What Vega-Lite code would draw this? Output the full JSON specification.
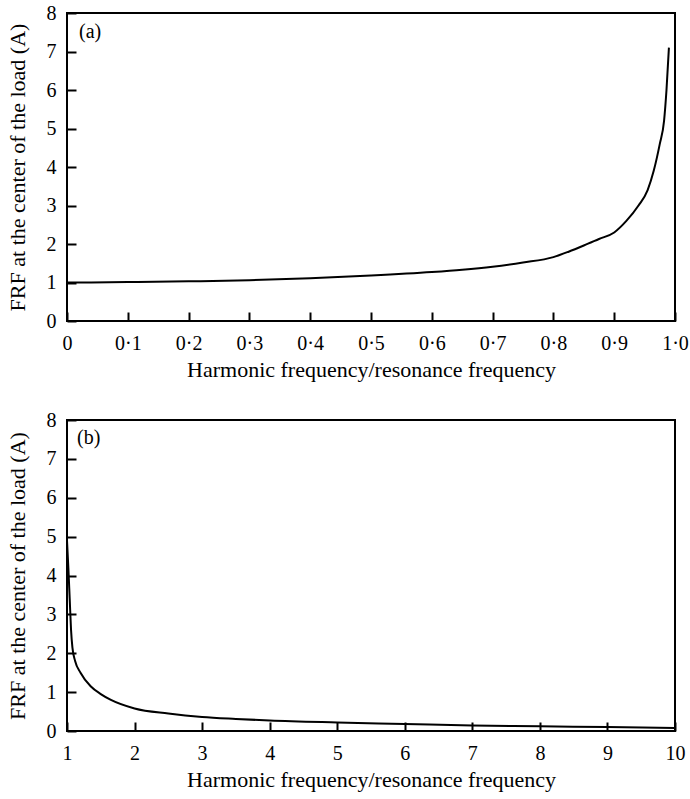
{
  "$schema": "https://vega.github.io/schema/vega-lite/v6.json",
  "background": "white",
  "padding": {"left": 5, "top": 2, "right": 12, "bottom": 4},
  "config": {
    "font": "Liberation Serif",
    "view": {"stroke": "black", "strokeWidth": 2},
    "axis": {
      "grid": false,
      "domain": false,
      "ticks": true,
      "tickColor": "#000000",
      "tickOpacity": 1,
      "tickWidth": 2,
      "tickSize": 9,
      "offset": -9,
      "labelOverlap": false,
      "labelFlush": false,
      "labelFont": "Liberation Serif",
      "labelFontSize": 20,
      "labelColor": "black",
      "titleFont": "Liberation Serif",
      "titleFontSize": 22,
      "titleFontWeight": "normal",
      "titleColor": "black"
    }
  },
  "datasets": {
    "a": [
      {"r": 0, "frf": 1.0},
      {"r": 0.1, "frf": 1.01},
      {"r": 0.2, "frf": 1.03},
      {"r": 0.3, "frf": 1.06},
      {"r": 0.4, "frf": 1.11},
      {"r": 0.5, "frf": 1.18},
      {"r": 0.6, "frf": 1.27},
      {"r": 0.65, "frf": 1.33},
      {"r": 0.7, "frf": 1.41},
      {"r": 0.75, "frf": 1.52},
      {"r": 0.8, "frf": 1.66},
      {"r": 0.825, "frf": 1.8},
      {"r": 0.85, "frf": 1.96},
      {"r": 0.875, "frf": 2.13},
      {"r": 0.9, "frf": 2.3},
      {"r": 0.92, "frf": 2.6},
      {"r": 0.94, "frf": 3.0},
      {"r": 0.955, "frf": 3.4},
      {"r": 0.965, "frf": 3.9},
      {"r": 0.975, "frf": 4.6},
      {"r": 0.982, "frf": 5.2},
      {"r": 0.986, "frf": 6.0},
      {"r": 0.99, "frf": 7.1}
    ],
    "b": [
      {"r": 1.0, "frf": 4.9},
      {"r": 1.02, "frf": 4.2},
      {"r": 1.04, "frf": 3.4},
      {"r": 1.06, "frf": 2.6},
      {"r": 1.08, "frf": 2.15},
      {"r": 1.12, "frf": 1.8},
      {"r": 1.2, "frf": 1.5},
      {"r": 1.35, "frf": 1.15},
      {"r": 1.5, "frf": 0.95},
      {"r": 1.65, "frf": 0.8},
      {"r": 2.0, "frf": 0.58},
      {"r": 2.5, "frf": 0.45},
      {"r": 3.0, "frf": 0.36},
      {"r": 3.5, "frf": 0.31},
      {"r": 4, "frf": 0.27},
      {"r": 5, "frf": 0.22},
      {"r": 6, "frf": 0.18},
      {"r": 7, "frf": 0.14},
      {"r": 8, "frf": 0.12},
      {"r": 9, "frf": 0.1},
      {"r": 10, "frf": 0.08}
    ]
  },
  "spacing": 99,
  "bounds": "flush",
  "vconcat": [
    {
      "width": 608,
      "height": 308,
      "layer": [
        {
          "data": {"name": "a"},
          "mark": {"type": "line", "color": "black", "strokeWidth": 2, "interpolate": "monotone"},
          "encoding": {
            "x": {"field": "r", "type": "quantitative",
              "scale": {"domain": [0, 1], "nice": false},
              "axis": {"values": [0, 0.1, 0.2, 0.3, 0.4, 0.5, 0.6, 0.7, 0.8, 0.9, 1.0],
                "labelExpr": "datum.value == 0 ? '0' : replace(format(datum.value, '.1f'), '.', '·')",
                "labelOverlap": false, "labelPadding": 12, "titlePadding": 6,
                "title": "Harmonic frequency/resonance frequency"}},
            "y": {"field": "frf", "type": "quantitative",
              "scale": {"domain": [0, 8], "nice": false},
              "axis": {"values": [0, 1, 2, 3, 4, 5, 6, 7, 8], "labelOverlap": false,
                "labelPadding": 11, "titlePadding": 17,
                "title": "FRF at the center of the load (A)"}}
          }
        },
        {
          "data": {"values": [{"label": "(a)"}]},
          "mark": {"type": "text", "align": "left", "baseline": "top", "dx": 12, "dy": 9, "fontSize": 20, "font": "Liberation Serif", "color": "black"},
          "encoding": {
            "x": {"datum": 0, "type": "quantitative",
              "axis": {"values": [0, 0.1, 0.2, 0.3, 0.4, 0.5, 0.6, 0.7, 0.8, 0.9, 1.0],
                "labelExpr": "datum.value == 0 ? '0' : replace(format(datum.value, '.1f'), '.', '·')",
                "labelOverlap": false, "labelPadding": 12, "titlePadding": 6,
                "title": "Harmonic frequency/resonance frequency"}},
            "y": {"datum": 8, "type": "quantitative",
              "axis": {"values": [0, 1, 2, 3, 4, 5, 6, 7, 8], "labelOverlap": false,
                "labelPadding": 11, "titlePadding": 17,
                "title": "FRF at the center of the load (A)"}},
            "text": {"field": "label"}
          }
        }
      ]
    },
    {
      "width": 608,
      "height": 311,
      "layer": [
        {
          "data": {"name": "b"},
          "mark": {"type": "line", "color": "black", "strokeWidth": 2, "interpolate": "monotone"},
          "encoding": {
            "x": {"field": "r", "type": "quantitative",
              "scale": {"domain": [1, 10], "nice": false, "zero": false},
              "axis": {"values": [1, 2, 3, 4, 5, 6, 7, 8, 9, 10], "format": "d", "labelOverlap": false,
                "labelPadding": 12, "titlePadding": 6,
                "title": "Harmonic frequency/resonance frequency"}},
            "y": {"field": "frf", "type": "quantitative",
              "scale": {"domain": [0, 8], "nice": false},
              "axis": {"values": [0, 1, 2, 3, 4, 5, 6, 7, 8], "labelOverlap": false,
                "labelPadding": 11, "titlePadding": 17,
                "title": "FRF at the center of the load (A)"}}
          }
        },
        {
          "data": {"values": [{"label": "(b)"}]},
          "mark": {"type": "text", "align": "left", "baseline": "top", "dx": 10, "dy": 8, "fontSize": 20, "font": "Liberation Serif", "color": "black"},
          "encoding": {
            "x": {"datum": 1, "type": "quantitative",
              "axis": {"values": [1, 2, 3, 4, 5, 6, 7, 8, 9, 10], "format": "d", "labelOverlap": false,
                "labelPadding": 12, "titlePadding": 6,
                "title": "Harmonic frequency/resonance frequency"}},
            "y": {"datum": 8, "type": "quantitative",
              "axis": {"values": [0, 1, 2, 3, 4, 5, 6, 7, 8], "labelOverlap": false,
                "labelPadding": 11, "titlePadding": 17,
                "title": "FRF at the center of the load (A)"}},
            "text": {"field": "label"}
          }
        }
      ]
    }
  ]
}
